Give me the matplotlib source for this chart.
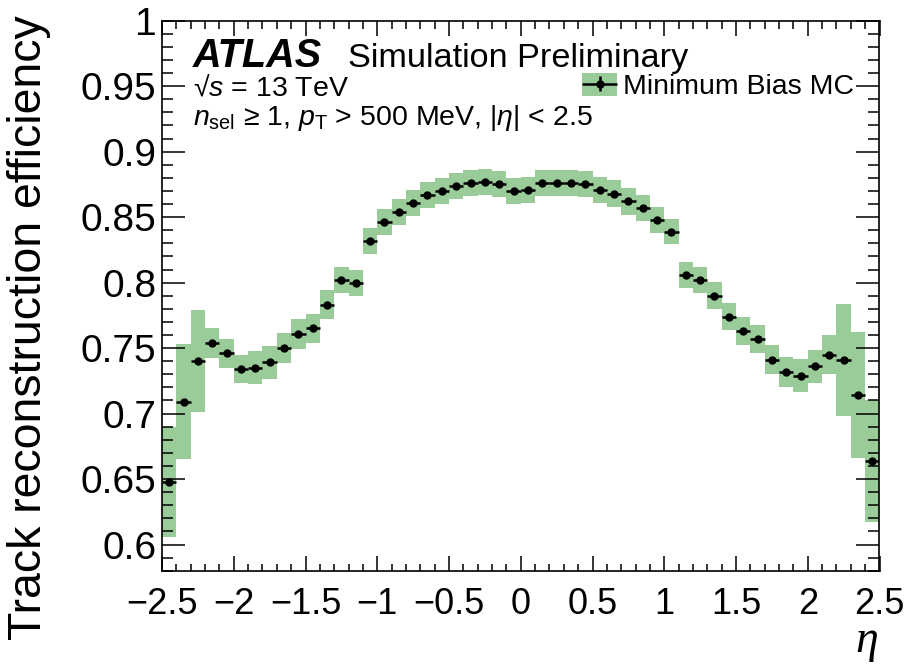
import numpy as np
import matplotlib
matplotlib.use("Agg")
import matplotlib.pyplot as plt
from matplotlib.patches import Patch
from matplotlib.container import ErrorbarContainer
from matplotlib.legend_handler import HandlerErrorbar
from matplotlib.ticker import MultipleLocator

plt.rcParams['font.family'] = ['Liberation Sans', 'DejaVu Sans']
plt.rcParams['mathtext.fontset'] = 'custom'
plt.rcParams['mathtext.rm'] = 'Liberation Sans'
plt.rcParams['mathtext.it'] = 'Liberation Sans:italic'
plt.rcParams['axes.unicode_minus'] = True

# eta bin centres (0.1 wide bins from -2.5 to 2.5)
eta = np.round(np.arange(-2.45, 2.5, 0.1), 2)

# efficiency per bin
eff = [0.648, 0.709, 0.740, 0.754, 0.746, 0.734, 0.735, 0.739, 0.750, 0.761,
       0.765, 0.783, 0.802, 0.800, 0.832, 0.846, 0.854, 0.861, 0.867, 0.870,
       0.874, 0.876, 0.877, 0.875, 0.870, 0.871, 0.876, 0.876, 0.876, 0.875,
       0.871, 0.868, 0.862, 0.857, 0.848, 0.839, 0.806, 0.802, 0.790, 0.774,
       0.763, 0.757, 0.741, 0.732, 0.729, 0.736, 0.745, 0.741, 0.714, 0.664]

# systematic band half-width per bin
syst = [0.042, 0.044, 0.039, 0.0115, 0.0113, 0.011, 0.0125, 0.0125, 0.0115, 0.0115,
        0.011, 0.011, 0.010, 0.010, 0.010, 0.010, 0.010, 0.010, 0.010, 0.010,
        0.010, 0.010, 0.010, 0.010, 0.010, 0.010, 0.010, 0.010, 0.010, 0.010,
        0.010, 0.010, 0.010, 0.010, 0.010, 0.0098, 0.010, 0.010, 0.0105, 0.0105,
        0.011, 0.011, 0.011, 0.0115, 0.0127, 0.0127, 0.015, 0.043, 0.048, 0.0466]

binw = 0.1
green = '#99cc99'

eff = np.array(eff)
syst = np.array(syst)

W, H = 909, 666
fig = plt.figure(figsize=(W / 100, H / 100), dpi=100)
ax = fig.add_axes([162 / W, 1 - 570.7 / H, 717.5 / W, 550 / H])

ax.bar(eta, 2 * syst, bottom=eff - syst, width=binw, color=green,
       edgecolor='none', linewidth=0)
ax.errorbar(eta, eff, xerr=binw / 2, fmt='o', color='black',
            markersize=5, elinewidth=1.8, capsize=0)
# proxy with vertical bar for the legend entry
eb_leg = ax.errorbar([np.nan], [np.nan], xerr=[binw / 2], yerr=[0.01], fmt='o',
                     color='black', markersize=5, elinewidth=1.8, capsize=0)

ax.set_xlim(-2.5, 2.5)
ax.set_ylim(0.58, 1.0)
ax.xaxis.set_major_locator(MultipleLocator(0.5))
ax.xaxis.set_minor_locator(MultipleLocator(0.1))
ax.yaxis.set_major_locator(MultipleLocator(0.05))
ax.yaxis.set_minor_locator(MultipleLocator(0.01))

def fmt(v, pos):
    s = ('%.2f' % v).rstrip('0').rstrip('.')
    if s in ('-0', ''):
        s = '0'
    return s.replace('-', '\u2212')

ax.xaxis.set_major_formatter(plt.FuncFormatter(fmt))
ax.yaxis.set_major_formatter(plt.FuncFormatter(fmt))

ax.tick_params(which='both', direction='in', top=True, right=True, width=1.1)
ax.tick_params(axis='x', which='major', length=11, labelsize=26, pad=12)
ax.tick_params(axis='x', which='minor', length=5.4)
ax.tick_params(axis='y', which='major', length=16.5, labelsize=28, pad=4)
ax.tick_params(axis='y', which='minor', length=8)
for sp in ax.spines.values():
    sp.set_linewidth(1.2)

fig.text(29 / W, 1 - 15 / H, 'Track reconstruction efficiency', rotation=90,
         ha='center', va='top', fontsize=33.4)
fig.text(878 / W, 1 - 652 / H, '\u03b7', ha='right', va='baseline',
         fontsize=33, family='Liberation Serif', style='italic')

# labels
fig.text(193 / W, 1 - 66.7 / H, 'ATLAS', fontsize=28.5, fontweight='bold',
         style='italic', va='baseline')
fig.text(348 / W, 1 - 66.7 / H, 'Simulation Preliminary', fontsize=24.7,
         va='baseline')
fig.text(193 / W, 1 - 95.7 / H, '\u221a$s$ = 13 TeV', fontsize=20.5, va='baseline')
fig.text(193 / W, 1 - 125 / H,
         '$n_{\\mathrm{sel}}$ \u2265 1, $p_{\\mathrm{T}}$ > 500 MeV, |$\\eta$| < 2.5',
         fontsize=20.5, va='baseline')

band_h = Patch(facecolor=green, edgecolor='none')
fs = 20.5
px = fs / 0.72
leg = ax.legend([(band_h, eb_leg)], ['Minimum Bias MC'], frameon=False,
                loc='upper left', bbox_to_anchor=(582 / W, 1 - 73 / H),
                bbox_transform=fig.transFigure, fontsize=fs, borderpad=0,
                borderaxespad=0, handlelength=35 / px, handleheight=24 / px,
                handletextpad=6 / px,
                handler_map={ErrorbarContainer: HandlerErrorbar(xerr_size=0.62,
                                                                yerr_size=0.27)})

fig.savefig('out.png', dpi=100)
